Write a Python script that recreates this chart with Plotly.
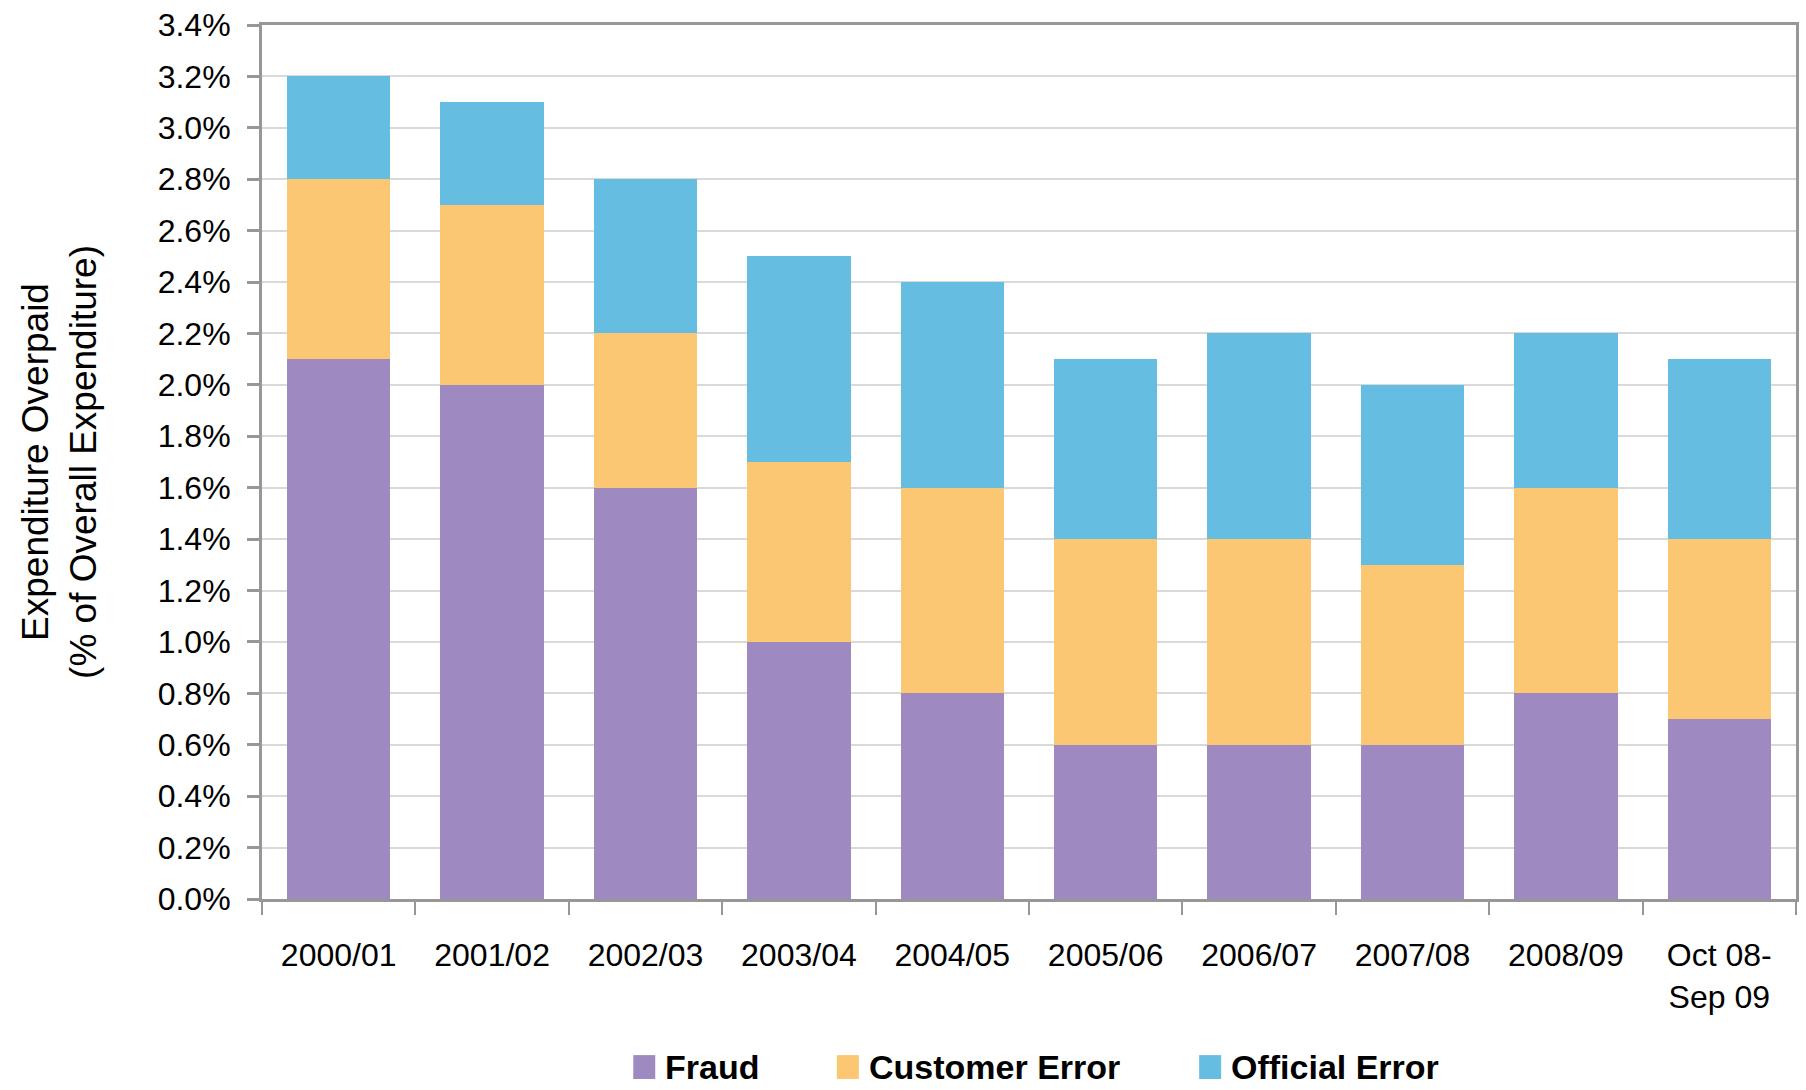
import plotly.graph_objects as go

categories = ["2000/01", "2001/02", "2002/03", "2003/04", "2004/05",
              "2005/06", "2006/07", "2007/08", "2008/09", "Oct 08-<br>Sep 09"]
fraud = [2.1, 2.0, 1.6, 1.0, 0.8, 0.6, 0.6, 0.6, 0.8, 0.7]
customer_error = [0.7, 0.7, 0.6, 0.7, 0.8, 0.8, 0.8, 0.7, 0.8, 0.7]
official_error = [0.4, 0.4, 0.6, 0.8, 0.8, 0.7, 0.8, 0.7, 0.6, 0.7]
series_names = ["Fraud", "Customer Error", "Official Error"]
y_ticks = [i * 0.2 for i in range(18)]

colors = ["#9E89C0", "#FBC772", "#65BDE1"]
FONT = "Liberation Sans, Arial, sans-serif"

W, H = 1806, 1090
L, R, T, B = 262, 7, 20, 191
plot_w = W - L - R
plot_h = H - T - B

fig = go.Figure()
for name, vals, col in zip(series_names, [fraud, customer_error, official_error], colors):
    fig.add_trace(go.Bar(x=categories, y=vals, name=name, marker=dict(color=col, line=dict(width=0)),
                         showlegend=False))

axis_gray = "#979797"
fig.update_layout(
    width=W, height=H,
    barmode="stack", bargap=0.325,
    plot_bgcolor="white", paper_bgcolor="white",
    margin=dict(l=L, r=R, t=T, b=B),
    font=dict(family=FONT, color="black", size=32),
    xaxis=dict(type="category", showline=True, linecolor=axis_gray, linewidth=3, mirror=True,
               ticks="outside", ticklen=13, tickwidth=2, tickcolor=axis_gray, tickson="boundaries",
               tickfont=dict(size=32, family=FONT), ticklabelstandoff=26, showgrid=False),
    yaxis=dict(range=[0, 3.4], tickvals=y_ticks, ticktext=[f"{v:.1f}%" for v in y_ticks],
               showline=True, linecolor=axis_gray, linewidth=3, mirror=True,
               ticks="outside", ticklen=12, tickwidth=3, tickcolor=axis_gray,
               showgrid=True, gridcolor="#D9D9D9", gridwidth=1.5, zeroline=False,
               tickfont=dict(size=32, family=FONT), ticklabelstandoff=10,
               title=dict(text="Expenditure Overpaid<br>(% of Overall Expenditure)",
                          font=dict(size=37, family=FONT), standoff=50)),
)

# legend drawn manually to match the large square swatches
legend_x_px = [634, 838, 1201]
sw_w, sw_h = 22, 24
legend_y_center = 1068
for name, col, xpx in zip(series_names, colors, legend_x_px):
    x0 = (xpx - L) / plot_w
    x1 = (xpx + sw_w - L) / plot_w
    y0 = (H - B - (legend_y_center + sw_h / 2)) / plot_h
    y1 = (H - B - (legend_y_center - sw_h / 2)) / plot_h
    fig.add_shape(type="rect", xref="paper", yref="paper", x0=x0, x1=x1, y0=y0, y1=y1,
                  fillcolor=col, line=dict(width=0))
    fig.add_annotation(xref="paper", yref="paper", x=(xpx + sw_w + 8 - L) / plot_w,
                       y=(H - B - legend_y_center) / plot_h, xanchor="left", yanchor="middle",
                       text=f"<b>{name}</b>", showarrow=False,
                       font=dict(size=34, family=FONT, color="black"))

fig.write_html("out.html")
